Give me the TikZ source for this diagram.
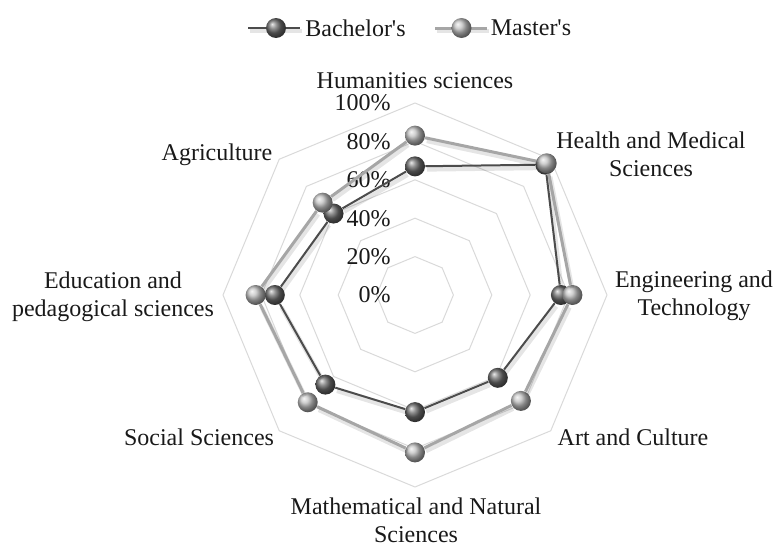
\documentclass[tikz,border=0pt]{standalone}
\usepackage{fontspec}
\setmainfont{Liberation Serif}
\usepackage{tikz}

\begin{document}
\begin{tikzpicture}[x=0.5pt,y=-0.5pt,font=\fontsize{12}{14}\selectfont,
		gridline/.style={draw=black!15,line width=0.5pt},
		lshadow/.style={preaction={draw=black,opacity=0.1,line width=2.2pt,transform canvas={shift={(0.8pt,-1.6pt)}}}},
		bline/.style={draw=black!70,line width=1pt,lshadow},
		mline/.style={draw=black!35,line width=1.5pt,lshadow},
		bmark/.style={circle,inner sep=0pt,minimum size=10pt,shading=ball,ball color=black!58},
		mmark/.style={circle,inner sep=0pt,minimum size=10pt,shading=ball,ball color=black!25},
		axlabel/.style={align=center,text=black!90}]
			\useasboundingbox (0,0) rectangle (778,546);
			
			% legend
			\coordinate (LB1) at (248,28);
			\coordinate (LB2) at (300,28);
			\draw[bline] (LB1) -- (LB2);
			\node[bmark] (LB) at (276,28) {};
			\node[axlabel] (LBt) at (355.5,28) {Bachelor\textquotesingle s};
			\coordinate (LM1) at (435,28);
			\coordinate (LM2) at (487,28);
			\draw[mline] (LM1) -- (LM2);
			\node[mmark] (LM) at (461.5,28) {};
			\node[axlabel] (LMt) at (531,28) {Master\textquotesingle s};
			
			\begin{scope}[shift={(415,295)}]
				% grid
				\foreach \k in {1,...,5} {
					\draw[gridline] (-90:\k*38.4) \foreach \a in {-45,0,...,225} { -- (\a:\k*38.4)} -- cycle;
				}
				\foreach \k in {0,...,5} {
					\pgfmathtruncatemacro{\pc}{\k * 20}
					\node[anchor=east,inner sep=0pt,text=black!90] (P\k) at (-24,-\k*38.4) {\pc\%};
				}
				
				% bachelor
				\foreach \v [count=\i] in {67,96,76,61,61,66,73,60} {
					\pgfmathsetmacro{\th}{-135 + 45 * \i}
					\node[bmark] (B\i) at (\th:\v*1.92) {};
				}
				\foreach \i [remember=\i as \j (initially 8)] in {1,...,8}
					\draw[bline] (B\j) -- (B\i);
				
				% master
				\foreach \v [count=\i] in {83,97,82,78,82,79,83,68} {
					\pgfmathsetmacro{\th}{-135 + 45 * \i}
					\node[mmark] (M\i) at (\th:\v*1.92) {};
				}
				\foreach \i [remember=\i as \j (initially 8)] in {1,...,8}
					\draw[mline] (M\j) -- (M\i);
			\end{scope}
			
			% axis labels
			\node[axlabel] (A1) at (415,81) {Humanities sciences};
			\node[axlabel] (A2) at (651,154) {Health and Medical\\Sciences};
			\node[axlabel] (A3) at (694,296) {Engineering and\\Technology};
			\node[axlabel] (A4) at (633,437) {Art and Culture};
			\node[axlabel] (A5) at (416,520) {Mathematical and Natural\\Sciences};
			\node[axlabel] (A6) at (199,437) {Social Sciences};
			\node[axlabel] (A7) at (113,297) {Education and\\pedagogical sciences};
			\node[axlabel] (A8) at (217,155) {Agriculture};
			
		\end{tikzpicture}
\end{document}
